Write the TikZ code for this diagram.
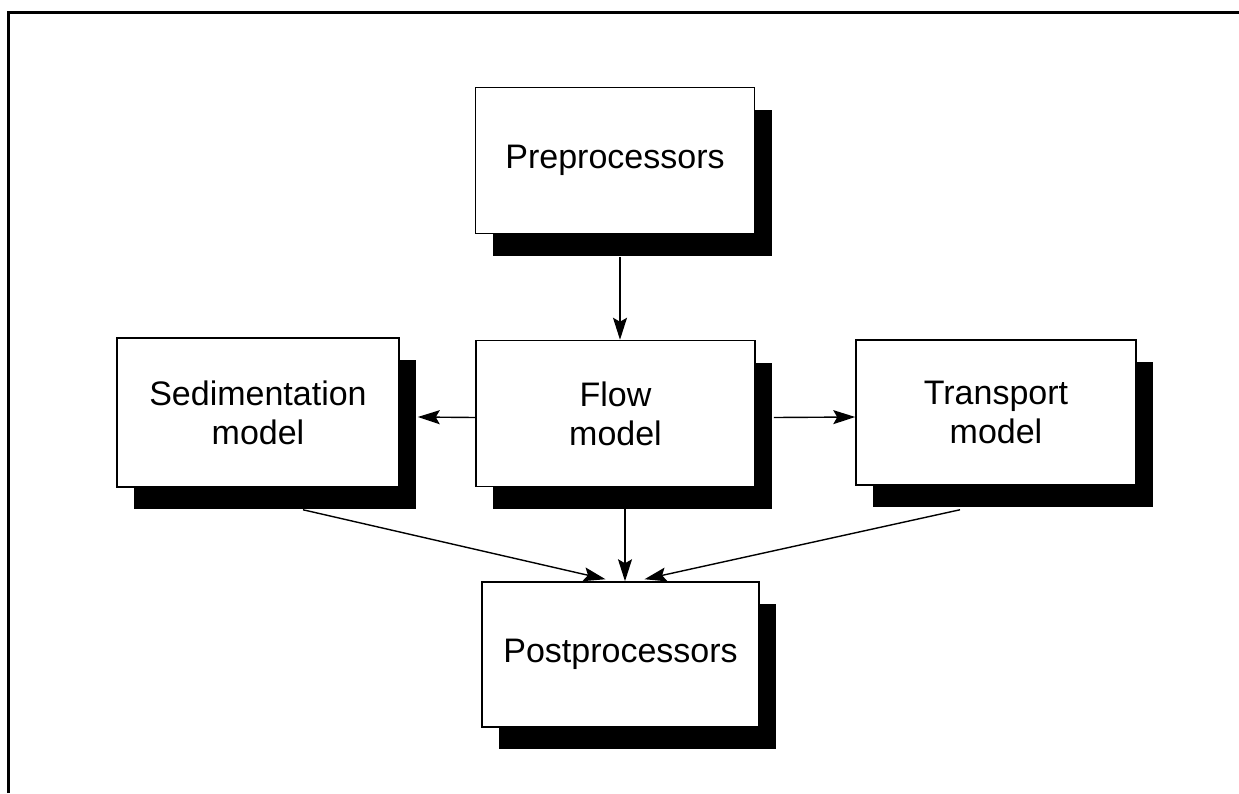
\documentclass[tikz,border=0pt]{standalone}
\usepackage{fontspec}
\setmainfont{Liberation Sans}
\usetikzlibrary{arrows.meta,shadows}
\begin{document}
\begin{tikzpicture}[x=1pt,y=-1pt,
  box/.style={draw=black,line width=1.5pt,fill=white,inner sep=0pt,
    minimum width=279pt,minimum height=146pt,align=center,
    font=\fontsize{34}{39}\selectfont,
    drop shadow={shadow xshift=17pt,shadow yshift=-22pt,fill=black,opacity=1}},
  arr/.style={line width=1.4pt,-{Stealth[length=22pt,width=14pt,inset=4pt]}}]
\useasboundingbox (0,0) rectangle (1239,793);
\draw[line width=3pt] (8,793) -- (8,12) -- (1239,12);
\node[box] (pre) at (615,160.5) {Preprocessors};
\node[box] (flow) at (615.5,413.5) {Flow\\model};
\node[box,minimum width=282pt,minimum height=149pt] (sed) at (258,412.5) {Sedimentation\\model};
\node[box,minimum width=280pt,minimum height=145pt] (trans) at (996,412.5) {Transport\\model};
\node[box,minimum width=277pt,minimum height=145pt] (post) at (620.5,654.5) {Postprocessors};
\draw[arr] ([xshift=5pt,yshift=-23pt]pre.south) -- ([xshift=4.5pt]flow.north);
\draw[arr] ([yshift=-4pt]flow.west) -- ([xshift=18pt,yshift=-4.5pt]sed.east);
\draw[arr] ([xshift=18pt,yshift=-4pt]flow.east) -- ([yshift=-4.5pt]trans.west);
\draw[arr] ([xshift=9.5pt,yshift=-22pt]flow.south) -- ([xshift=4.5pt]post.north);
\draw[arr] ([xshift=45pt,yshift=-22pt]sed.south) -- ([xshift=-15pt,yshift=2pt]post.north);
\draw[arr] ([xshift=-36pt,yshift=-24pt]trans.south) -- ([xshift=24pt,yshift=2pt]post.north);
\end{tikzpicture}
\end{document}
